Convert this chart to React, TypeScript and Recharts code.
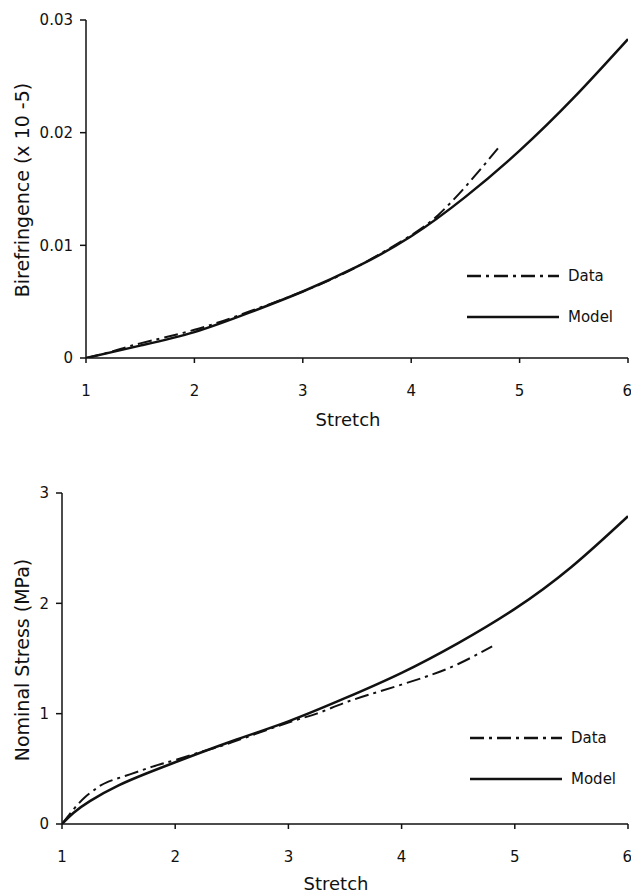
import { LineChart, Line, XAxis, YAxis, Legend } from 'recharts'

// x values shared by both panels
const stretchTicks = [1, 2, 3, 4, 5, 6]

// top panel: birefringence
const birefTicks = [0, 0.01, 0.02, 0.03]
const birefModelStretch = [1, 1.5, 2, 2.5, 3, 3.5, 4, 4.5, 5, 5.5, 6]
const birefModelValues = [0, 0.0011, 0.0023, 0.004, 0.0059, 0.0081, 0.0108, 0.0143, 0.0184, 0.0231, 0.0283]
const birefDataStretch = [1, 1.25, 1.5, 2, 2.5, 3, 3.5, 4, 4.25, 4.5, 4.8]
const birefDataValues = [0, 0.0006, 0.0013, 0.0025, 0.0041, 0.0059, 0.0081, 0.0109, 0.0127, 0.0152, 0.0186]

// bottom panel: nominal stress
const stressTicks = [0, 1, 2, 3]
const stressModelStretch = [1, 1.1, 1.25, 1.5, 1.75, 2, 2.5, 3, 3.5, 4, 4.5, 5, 5.5, 6]
const stressModelValues = [0, 0.1, 0.21, 0.35, 0.46, 0.56, 0.75, 0.93, 1.14, 1.37, 1.64, 1.95, 2.33, 2.79]
const stressDataStretch = [1, 1.1, 1.2, 1.3, 1.4, 1.6, 1.8, 2, 2.25, 2.5, 3, 3.25, 3.5, 3.8, 4.2, 4.5, 4.8]
const stressDataValues = [0, 0.13, 0.24, 0.32, 0.38, 0.45, 0.52, 0.58, 0.66, 0.74, 0.92, 1.0, 1.1, 1.2, 1.33, 1.45, 1.61]

const toPoints = (xs: number[], ys: number[]) => xs.map((x, i) => ({ stretch: x, value: ys[i] }))

const FONT = '"DejaVu Sans", sans-serif'
const INK = '#111'
const DASH_DOT = '14 5 3 5'
const Y_AXIS_W = 60

function LegendBox() {
  return (
    <div style={{ fontFamily: FONT, fontSize: 15, color: INK }}>
      <div style={{ display: 'flex', alignItems: 'center', height: 20 }}>
        <svg width={92} height={6}>
          <line x1={0} y1={3} x2={92} y2={3} stroke={INK} strokeWidth={2.5} strokeDasharray={DASH_DOT} />
        </svg>
        <span style={{ marginLeft: 9 }}>Data</span>
      </div>
      <div style={{ display: 'flex', alignItems: 'center', height: 20, marginTop: 21 }}>
        <svg width={92} height={6}>
          <line x1={0} y1={3} x2={92} y2={3} stroke={INK} strokeWidth={2.5} />
        </svg>
        <span style={{ marginLeft: 9 }}>Model</span>
      </div>
    </div>
  )
}

type PanelProps = {
  height: number
  plotLeft: number
  margin: { top: number; right: number; bottom: number }
  yTicks: number[]
  model: { stretch: number; value: number }[]
  data: { stretch: number; value: number }[]
  legendTop: number
  legendLeft: number
  xAxisHeight: number
  tickMargin: number
}

function Panel(p: PanelProps) {
  const axisStyle = { stroke: INK, strokeWidth: 1.5 }
  const tickStyle = { fontSize: 15, fill: INK, fontFamily: FONT }
  return (
    <LineChart width={631} height={p.height} margin={{ ...p.margin, left: p.plotLeft - Y_AXIS_W }}>
      <XAxis
        type="number"
        dataKey="stretch"
        domain={[1, 6]}
        ticks={stretchTicks}
        allowDataOverflow
        height={p.xAxisHeight}
        axisLine={axisStyle}
        tickLine={axisStyle}
        tickSize={5}
        tickMargin={p.tickMargin}
        tick={tickStyle}
        label={{ value: 'Stretch', position: 'insideBottom', offset: 0, dx: -9, style: { fontSize: 18, fill: INK, fontFamily: FONT } }}
      />
      <YAxis
        type="number"
        dataKey="value"
        domain={[p.yTicks[0], p.yTicks[p.yTicks.length - 1]]}
        ticks={p.yTicks}
        allowDataOverflow
        width={Y_AXIS_W}
        axisLine={axisStyle}
        tickLine={axisStyle}
        tickSize={6}
        tickMargin={7}
        tick={tickStyle}
      />
      <Legend
        layout="vertical"
        align="center"
        verticalAlign="middle"
        content={() => <LegendBox />}
        wrapperStyle={{ position: 'absolute', top: p.legendTop, left: p.legendLeft, width: 170, height: 70 }}
      />
      <Line
        data={p.data}
        dataKey="value"
        type="natural"
        stroke={INK}
        strokeWidth={2}
        strokeDasharray={DASH_DOT}
        dot={false}
        isAnimationActive={false}
        name="Data"
      />
      <Line
        data={p.model}
        dataKey="value"
        type="natural"
        stroke={INK}
        strokeWidth={2.5}
        dot={false}
        isAnimationActive={false}
        name="Model"
      />
    </LineChart>
  )
}

function YTitle({ text, top }: { text: string; top: number }) {
  return (
    <div
      style={{
        position: 'absolute',
        left: 22,
        top,
        transform: 'translate(-50%, -50%) rotate(-90deg)',
        whiteSpace: 'nowrap',
        fontFamily: FONT,
        fontSize: 19,
        color: INK,
      }}
    >
      {text}
    </div>
  )
}

export default function App() {
  return (
    <div style={{ position: 'absolute', left: 0, top: 0, width: 631, height: 894, background: '#fff', overflow: 'hidden' }}>
      <div style={{ position: 'absolute', left: 0, top: 0 }}>
        <Panel
          height={440}
          plotLeft={86}
          margin={{ top: 20, right: 3, bottom: 14 }}
          yTicks={birefTicks}
          model={toPoints(birefModelStretch, birefModelValues)}
          data={toPoints(birefDataStretch, birefDataValues)}
          legendTop={266}
          legendLeft={467}
          xAxisHeight={68}
          tickMargin={22}
        />
      </div>
      <YTitle text="Birefringence (x 10 -5)" top={190} />
      <div style={{ position: 'absolute', left: 0, top: 440 }}>
        <Panel
          height={454}
          plotLeft={62}
          margin={{ top: 53, right: 3, bottom: 4 }}
          yTicks={stressTicks}
          model={toPoints(stressModelStretch, stressModelValues)}
          data={toPoints(stressDataStretch, stressDataValues)}
          legendTop={288}
          legendLeft={470}
          xAxisHeight={66}
          tickMargin={22}
        />
      </div>
      <YTitle text="Nominal Stress (MPa)" top={660} />
    </div>
  )
}
